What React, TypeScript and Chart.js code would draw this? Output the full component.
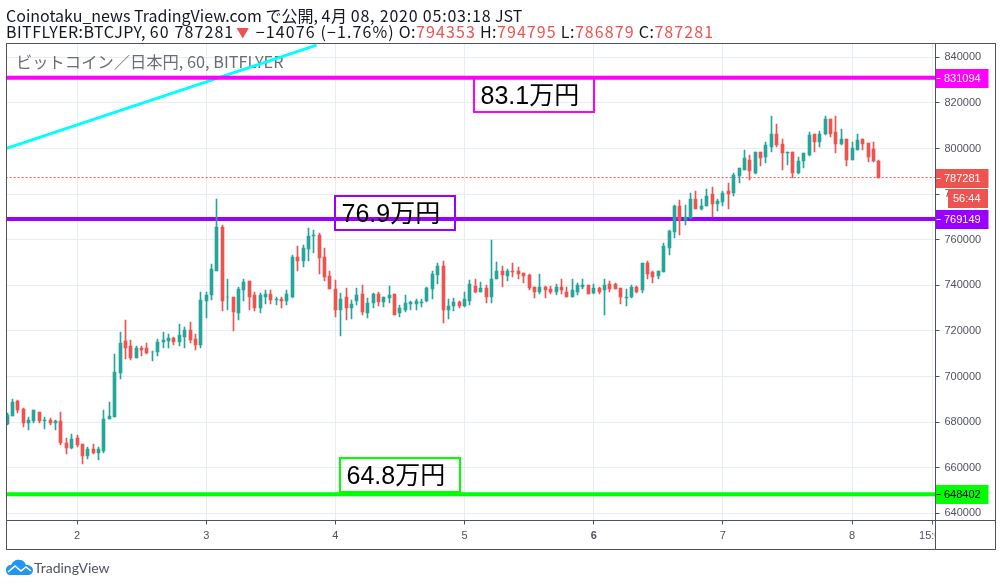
import React, { useEffect, useRef } from "react";
import { Chart, registerables } from "chart.js";

Chart.register(...registerables);

// Candles, one per hour, thousand yen. First candle is hour 35 (day 1, 11:00).
const firstHour = 35;
const opens = [
  679.2,682.9,689.4,685.9,679.4,680.7,684.6,680.7,681.1,679.4,
  680.7,671.0,668.8,673.2,670.6,665.3,668.0,666.6,667.5,681.5,
  682.4,701.7,715.8,713.6,708.3,712.7,712.3,710.6,710.9,715.3,
  715.8,717.1,715.3,717.5,720.6,716.6,714.0,733.0,735.6,746.5,
  765.4,734.7,735.1,727.7,737.8,741.7,735.6,729.9,735.1,736.0,
  733.4,733.8,733.0,735.1,752.3,750.9,755.8,761.5,762.3,752.3,
  743.9,738.2,729.0,735.1,729.9,733.0,736.0,727.7,732.1,736.0,
  732.5,734.3,736.0,727.7,729.0,731.6,731.6,732.1,733.0,738.2,
  744.4,748.3,729.4,730.8,732.5,730.8,733.0,739.5,737.3,738.7,
  735.1,742.6,746.5,743.9,746.5,746.1,745.2,744.4,739.1,737.3,
  739.1,738.2,737.3,739.1,737.3,735.1,737.3,739.1,740.0,736.5,
  738.7,737.8,740.4,740.4,738.7,734.3,734.7,739.1,737.8,749.6,
  745.7,743.9,745.7,756.2,763.2,774.6,768.5,769.4,777.7,773.7,
  774.6,779.9,775.9,776.4,781.2,780.3,787.8,790.4,795.2,789.5,
  798.3,796.1,800.9,806.2,801.8,797.9,798.7,789.5,794.4,797.4,
  806.2,802.7,806.2,812.8,807.1,801.8,804.0,795.2,799.2,804.0,
  802.3,799.6,794.353,
];
const closes = [
  683.2,689.0,685.5,679.4,681.1,685.1,680.7,681.1,679.4,680.7,
  671.0,668.8,672.8,670.1,665.3,668.0,666.6,668.4,681.5,682.9,
  702.2,714.9,712.7,708.3,712.3,711.8,710.5,710.9,715.3,716.2,
  717.1,715.3,718.0,720.6,716.2,714.0,733.4,735.6,747.0,765.4,
  733.0,735.1,728.1,738.2,741.3,734.7,729.9,735.6,736.0,733.4,
  733.8,733.0,736.0,752.3,750.9,756.6,761.5,762.3,751.8,743.5,
  738.2,729.4,733.8,729.9,731.6,735.6,728.1,732.1,736.0,732.5,
  734.7,735.6,727.2,729.9,732.1,732.5,733.0,732.5,738.7,744.8,
  748.3,729.4,730.8,732.5,730.8,733.8,740.4,737.3,738.7,735.1,
  743.0,746.5,744.4,746.5,745.7,744.8,743.9,738.7,737.3,739.1,
  737.8,737.3,739.1,737.8,735.1,737.8,740.0,740.0,736.0,738.7,
  737.3,740.0,738.2,738.2,734.7,735.1,739.1,737.3,749.6,744.8,
  743.5,746.1,757.1,763.7,774.6,768.5,769.8,777.7,773.7,774.6,
  779.4,775.9,776.8,780.3,779.9,788.2,791.3,795.7,790.0,798.3,
  795.7,801.4,806.2,801.4,797.9,798.3,789.1,794.4,797.9,805.8,
  803.1,806.6,812.8,806.6,801.8,804.0,795.2,800.1,803.6,801.8,
  796.1,794.4,787.281,
];
const highs = [
  684.2,690.3,689.9,686.4,682.4,685.1,684.6,682.4,682.0,681.1,
  684.6,673.2,675.0,674.5,670.6,669.3,670.6,669.3,685.5,689.0,
  710.1,719.7,725.0,716.2,713.6,713.6,714.9,711.4,716.6,719.7,
  718.8,717.5,723.2,721.9,724.1,718.8,737.3,737.3,749.2,778.1,
  766.3,742.6,735.1,739.1,743.0,741.7,737.3,736.5,737.8,737.8,
  735.1,735.1,737.8,753.1,757.1,757.5,765.0,764.1,762.8,756.2,
  746.1,742.2,736.5,738.7,733.4,738.7,740.0,734.3,736.5,737.3,
  735.1,739.5,736.0,731.2,735.6,733.0,733.8,733.8,739.1,746.5,
  749.6,750.9,733.8,734.3,733.0,737.3,742.2,742.6,741.3,740.0,
  760.1,750.1,748.3,747.0,749.6,747.9,745.2,744.8,739.1,744.8,
  739.5,739.5,740.4,743.0,739.1,742.6,740.9,742.6,740.0,740.4,
  739.1,742.6,741.7,740.9,738.7,738.2,740.0,739.5,749.6,750.9,
  746.1,746.5,758.4,764.1,775.1,777.3,775.1,780.3,781.6,777.7,
  782.1,783.0,778.1,781.2,784.7,789.1,791.7,799.2,797.4,798.7,
  798.7,803.1,814.5,810.6,804.0,798.7,798.7,796.1,797.9,807.1,
  806.6,807.5,814.1,812.8,814.1,808.4,804.0,802.7,806.2,804.4,
  802.3,802.7,794.795,
];
const lows = [
  678.9,682.6,684.2,678.0,676.7,679.8,679.8,677.2,678.9,676.7,
  670.1,665.8,668.0,669.3,661.8,664.0,666.2,663.6,666.6,681.5,
  682.4,699.1,707.9,707.4,708.3,709.2,710.1,707.0,709.2,712.3,
  712.3,714.0,713.6,712.7,714.9,711.8,712.7,725.5,733.4,746.5,
  728.6,729.0,719.8,724.6,733.0,729.4,728.6,727.7,731.6,731.6,
  731.2,729.9,731.2,734.3,746.5,747.9,750.5,754.4,744.8,741.7,
  738.2,725.9,717.6,724.6,725.1,731.2,727.2,725.5,729.9,730.8,
  730.3,732.1,726.8,725.9,728.1,729.0,729.0,730.3,732.5,733.8,
  740.4,723.7,725.1,728.6,729.9,730.3,731.2,736.5,736.9,732.1,
  732.1,742.6,739.1,741.7,743.5,742.6,740.9,737.8,734.3,736.0,
  734.3,736.0,735.6,736.0,734.7,735.1,735.6,738.2,736.0,736.0,
  736.0,726.8,736.9,738.2,731.6,730.8,734.3,736.5,736.5,743.0,
  740.9,743.0,745.7,753.1,760.6,762.3,766.3,768.9,773.3,772.9,
  774.6,770.2,772.4,774.6,773.7,779.0,784.7,790.4,786.0,788.7,
  792.2,793.5,798.3,800.9,790.8,792.6,786.9,788.7,791.7,796.6,
  798.3,800.9,805.8,804.9,797.9,801.4,792.2,795.2,799.2,799.2,
  793.9,793.9,786.879,
];

// Levels and annotations
const upperLevel = 831094;
const middleLevel = 769149;
const lowerLevel = 648402;
const lastPrice = 787281;
const trendHours = [34.9, 92.5];
const trendPrices = [800100, 845400];
const countdown = "56:44";
const labelUpper = "83.1万円";
const labelMiddle = "76.9万円";
const labelLower = "64.8万円";
const watermark = "ビットコイン／日本円, 60, BITFLYER";

// Axis ticks
const priceTicks = [640000, 660000, 680000, 700000, 720000, 740000, 760000, 780000, 800000, 820000, 840000];
const dayTicks = [48, 72, 96, 120, 144, 168, 192, 207];
const dayLabels = ["2", "3", "4", "5", "6", "7", "8", "15:00"];

const GREEN = "#26a69a";
const RED = "#ef5350";
const GRID = "#e6eef3";
const FRAME = "#50535e";
const MAGENTA = "#ff00ff";
const PURPLE = "#9900ff";
const LIME = "#00ff00";
const CYAN = "#00ffff";
const AXIS_FONT = "11px 'Liberation Sans', sans-serif";
const CJK = "'Noto Sans CJK JP', sans-serif";

const crispBars = {
  id: "crispBars",
  afterDatasetsUpdate(chart: any) {
    chart.data.datasets.forEach((d: any, i: number) => {
      if (d.type === "line") return;
      chart.getDatasetMeta(i).data.forEach((el: any) => {
        el.x = Math.floor(el.x) + 0.5;
        el.y = Math.round(el.y);
        el.base = Math.round(el.base);
      });
    });
  },
};

const decorations = {
  id: "decorations",
  beforeDatasetsDraw(chart: any) {
    const ctx = chart.ctx;
    ctx.save();
    ctx.fillStyle = "rgba(80,83,94,0.85)";
    ctx.font = `16.3px ${CJK}`;
    ctx.textBaseline = "alphabetic";
    ctx.textAlign = "left";
    ctx.fillText(watermark, 16, 68);
    ctx.restore();
  },
  afterDraw(chart: any) {
    const ctx = chart.ctx;
    const y = chart.scales.y;
    const x = chart.scales.x;
    const area = chart.chartArea;
    ctx.save();

    // Annotation boxes
    const box = (text: string, hour: number, price: number, color: string) => {
      const bx = Math.round(x.getPixelForValue(hour));
      const by = Math.round(y.getPixelForValue(price));
      ctx.strokeStyle = color;
      ctx.lineWidth = 2;
      ctx.strokeRect(bx, by, 120, 34);
      ctx.fillStyle = "#000000";
      ctx.font = `25px 'Liberation Sans', ${CJK}`;
      ctx.textAlign = "left";
      ctx.textBaseline = "alphabetic";
      ctx.fillText(text, bx + 6.5, by + 25.5);
    };
    box(labelUpper, 121.8, 830960, MAGENTA);
    box(labelMiddle, 96, 779200, PURPLE);
    box(labelLower, 96.9, 664200, LIME);

    // Cover the part of the time axis that runs into the price axis
    ctx.fillStyle = "#ffffff";
    ctx.fillRect(area.right + 0.5, area.bottom + 1, 60, 28);

    // Price badges
    const badge = (text: string, price: number, color: string, textColor: string) => {
      const cy = Math.round(y.getPixelForValue(price));
      ctx.fillStyle = color;
      ctx.fillRect(area.right, cy - 9, 53, 19);
      ctx.fillStyle = textColor;
      ctx.fillRect(area.right + 1, cy, 4, 1);
      ctx.font = AXIS_FONT;
      ctx.textAlign = "left";
      ctx.textBaseline = "middle";
      ctx.fillText(text, 944, cy + 1);
    };
    badge(String(upperLevel), upperLevel, MAGENTA, "#ffffff");
    badge(String(lastPrice), lastPrice, RED, "#ffffff");
    badge(String(middleLevel), middleLevel, PURPLE, "#ffffff");
    badge(String(lowerLevel), lowerLevel, LIME, "#000000");

    // Countdown under the last price
    const ly = Math.round(y.getPixelForValue(lastPrice));
    ctx.fillStyle = RED;
    ctx.fillRect(948, ly + 11, 40, 19);
    ctx.fillStyle = "#ffffff";
    ctx.font = AXIS_FONT;
    ctx.textAlign = "left";
    ctx.textBaseline = "middle";
    ctx.fillText(countdown, 953, ly + 21);

    // Frame
    ctx.strokeStyle = FRAME;
    ctx.lineWidth = 1;
    ctx.strokeRect(6.5, 43.5, 989, 506);
    ctx.beginPath();
    ctx.moveTo(935.5, 43.5);
    ctx.lineTo(935.5, 549.5);
    ctx.moveTo(6.5, 520.5);
    ctx.lineTo(995.5, 520.5);
    ctx.stroke();
    ctx.restore();
  },
};

export default function App() {
  const ref = useRef<HTMLCanvasElement>(null);

  useEffect(() => {
    document.body.style.margin = "0";
    const candleColors = opens.map((o, i) => (closes[i] >= o ? GREEN : RED));
    const hours = opens.map((_, i) => firstHour + i);
    const wickData = hours.map((h, i) => ({ x: h, y: [lows[i] * 1000, highs[i] * 1000] }));
    const bodyData = hours.map((h, i) => ({ x: h, y: [opens[i] * 1000, closes[i] * 1000] }));
    const levelLine = (price: number, color: string) => ({
      type: "line" as const,
      data: [
        { x: 34, y: price },
        { x: 208, y: price },
      ],
      borderColor: color,
      borderWidth: 4,
      pointRadius: 0,
      order: 5,
    });
    const chart = new Chart(ref.current as HTMLCanvasElement, {
      type: "bar",
      data: {
        datasets: [
          {
            data: bodyData,
            backgroundColor: candleColors,
            barThickness: 3,
            grouped: false,
            order: 0,
          },
          {
            data: wickData,
            backgroundColor: candleColors,
            barThickness: 1,
            grouped: false,
            order: 1,
          },
          levelLine(upperLevel, MAGENTA),
          levelLine(middleLevel, PURPLE),
          levelLine(lowerLevel, LIME),
          {
            type: "line",
            data: trendHours.map((h, i) => ({ x: h, y: trendPrices[i] })),
            borderColor: CYAN,
            borderWidth: 3,
            pointRadius: 0,
            order: 6,
          },
          {
            type: "line",
            data: [
              { x: 34, y: lastPrice },
              { x: 208, y: lastPrice },
            ],
            borderColor: RED,
            borderWidth: 1,
            borderDash: [2, 2],
            pointRadius: 0,
            order: 4,
          },
        ] as any,
      },
      options: {
        animation: false,
        responsive: false,
        devicePixelRatio: 1,
        layout: { padding: { left: 6.5, right: 6.5, top: 43.5, bottom: 36.5 } },
        plugins: { legend: { display: false }, tooltip: { enabled: false } },
        scales: {
          x: {
            type: "linear",
            offset: false,
            min: 34.9,
            max: 207.5,
            afterBuildTicks: (s: any) => {
              s.ticks = dayTicks.map((value) => ({ value }));
            },
            afterFit: (s: any) => {
              s.height = 29;
            },
            grid: { color: GRID, offset: false, tickColor: FRAME, tickLength: 4, lineWidth: 1 },
            border: { display: false },
            ticks: {
              autoSkip: false,
              maxRotation: 0,
              minRotation: 0,
              padding: 5,
              color: FRAME,
              font: (c: any) => ({
                family: "'Liberation Sans', sans-serif",
                size: 11,
                weight: c.tick && c.tick.value === 144 ? "bold" : "normal",
              }),
              callback: (v: any) => dayLabels[dayTicks.indexOf(Number(v))] ?? "",
            },
          },
          y: {
            type: "linear",
            position: "right",
            min: 636840,
            max: 846100,
            afterBuildTicks: (s: any) => {
              s.ticks = priceTicks.map((value) => ({ value }));
            },
            afterFit: (s: any) => {
              s.width = 60;
            },
            grid: { color: GRID, tickColor: FRAME, tickLength: 4, lineWidth: 1 },
            border: { display: false },
            ticks: {
              padding: 5,
              color: FRAME,
              font: { family: "'Liberation Sans', sans-serif", size: 11 },
              callback: (v: any) => String(v),
            },
          },
        },
      },
      plugins: [crispBars, decorations],
    } as any);
    return () => chart.destroy();
  }, []);

  const num: React.CSSProperties = { letterSpacing: 0.8 };
  const numWide: React.CSSProperties = { letterSpacing: 1.1 };
  const red: React.CSSProperties = { color: RED, letterSpacing: 1.1 };
  const headerLine: React.CSSProperties = {
    position: "absolute",
    left: 6,
    whiteSpace: "nowrap",
    fontFamily: CJK,
    fontSize: 16,
    lineHeight: "16px",
    color: "#131722",
  };
  return (
    <div style={{ position: "absolute", left: 0, top: 0, width: 1002, height: 586, background: "#fff", overflow: "hidden" }}>
      <canvas ref={ref} width={1002} height={586} style={{ display: "block" }} />
      <div style={{ ...headerLine, top: 7 }}>
        Coinotaku_news TradingView.com で公開, <span style={num}>4</span>月 <span style={num}>08, 2020 05:03:18</span> JST
      </div>
      <div style={{ ...headerLine, top: 23, letterSpacing: 0.45 }}>
        BITFLYER:BTCJPY, <span style={numWide}>60 787281</span>
        <span style={{ color: RED, fontSize: 13, marginLeft: 2, marginRight: 2, verticalAlign: 1 }}>▼</span>
        {" "}<span style={numWide}>−14076 (−1.76%)</span> O:<span style={red}>794353</span> H:<span style={red}>794795</span> L:<span style={red}>786879</span> C:<span style={red}>787281</span>
      </div>
      <svg style={{ position: "absolute", left: 6, top: 559 }} width="27" height="17" viewBox="0 0 27 17">
        <path d="M4 16 C1 16 0 13 0 11 C0 8 2 6 5 6 C7 2 10 0 14 1 C17 1 19 3 20 6 C24 6 27 8 27 11 C27 14 25 16 22 16 Z" fill="#2196f3" />
        <path d="M2 13 L9 7 L15 12 L20 8 L25 12" fill="none" stroke="#ffffff" strokeWidth="1.6" />
      </svg>
      <div style={{ position: "absolute", left: 34, top: 559, fontFamily: "Lato, sans-serif", fontSize: 14, lineHeight: "17px", color: "#50535e", whiteSpace: "nowrap" }}>TradingView</div>
    </div>
  );
}
